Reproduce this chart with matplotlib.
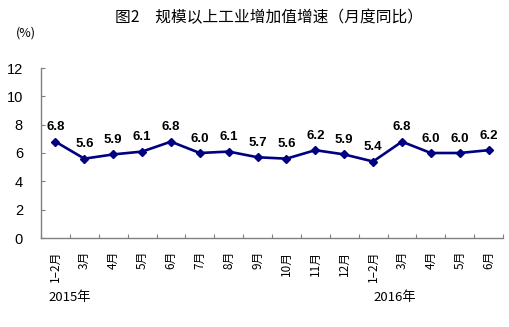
import matplotlib
matplotlib.use("Agg")
import matplotlib.pyplot as plt
import numpy as np

# ==============================
# DATA
# ==============================

MONTHS = ["1–2月", "3月", "4月", "5月", "6月", "7月", "8月", "9月",
          "10月", "11月", "12月", "1–2月", "3月", "4月", "5月", "6月"]
GROWTH = [6.8, 5.6, 5.9, 6.1, 6.8, 6.0, 6.1, 5.7,
          5.6, 6.2, 5.9, 5.4, 6.8, 6.0, 6.0, 6.2]
YEARS = ["2015年", "2016年"]
Y_TICKS = [0, 2, 4, 6, 8, 10, 12]

TITLE = "图2　规模以上工业增加值增速（月度同比）"

LINE_COLOR = "#000080"
AXIS_COLOR = "#808080"
CJK = ["Noto Sans CJK SC", "DejaVu Sans"]
NUM = ["Liberation Sans", "DejaVu Sans"]


def main():
    fig = plt.figure(figsize=(5.09, 3.27), dpi=100)
    ax = fig.add_axes([41 / 509, 89 / 327, 462 / 509, 170 / 327])

    x = np.arange(len(GROWTH))
    ax.plot(x, GROWTH, color=LINE_COLOR, linewidth=1.9,
            marker="D", markersize=4.5, markeredgecolor=LINE_COLOR,
            markerfacecolor=LINE_COLOR, zorder=3)

    # value labels above each point
    for xi, v in zip(x, GROWTH):
        ax.annotate(f"{v:.1f}", (xi, v), xytext=(0, 6), textcoords="offset points",
                    ha="center", va="bottom", fontsize=9.5, fontweight="bold",
                    family=NUM, color="black")

    ax.set_xlim(-0.5, len(GROWTH) - 0.5)
    ax.set_ylim(0, 12)

    ax.set_yticks(Y_TICKS)
    ax.set_yticklabels([str(t) for t in Y_TICKS], family=NUM, fontsize=10.5)

    # ticks between categories, labels at category centers
    ax.set_xticks(np.arange(len(GROWTH) + 1) - 0.5)
    ax.set_xticklabels([])
    ax.set_xticks(x, minor=True)
    ax.set_xticklabels(MONTHS, minor=True, rotation=90, family=CJK, fontsize=8.5,
                       va="top", ha="center")

    ax.tick_params(axis="x", which="major", direction="in", length=3,
                   color=AXIS_COLOR, width=0.8)
    ax.tick_params(axis="x", which="minor", length=0, pad=9)
    ax.tick_params(axis="y", direction="in", length=3, color=AXIS_COLOR,
                   width=0.8, pad=13)

    for side in ["top", "right"]:
        ax.spines[side].set_visible(False)
    for side in ["left", "bottom"]:
        ax.spines[side].set_color(AXIS_COLOR)
        ax.spines[side].set_linewidth(1.0)

    fig.text(269 / 509, 1 - 18 / 327, TITLE, ha="center", va="center",
             family=CJK, fontsize=11.3)
    fig.text(26 / 509, 1 - 33 / 327, "(%)", ha="center", va="center",
             family=CJK, fontsize=9)

    fig.text(70 / 509, 1 - 297 / 327, YEARS[0], ha="center", va="center",
             family=CJK, fontsize=9.5)
    fig.text(395 / 509, 1 - 297 / 327, YEARS[1], ha="center", va="center",
             family=CJK, fontsize=9.5)

    fig.savefig("out.png", dpi=100, facecolor="white")
    plt.close(fig)


if __name__ == "__main__":
    main()
